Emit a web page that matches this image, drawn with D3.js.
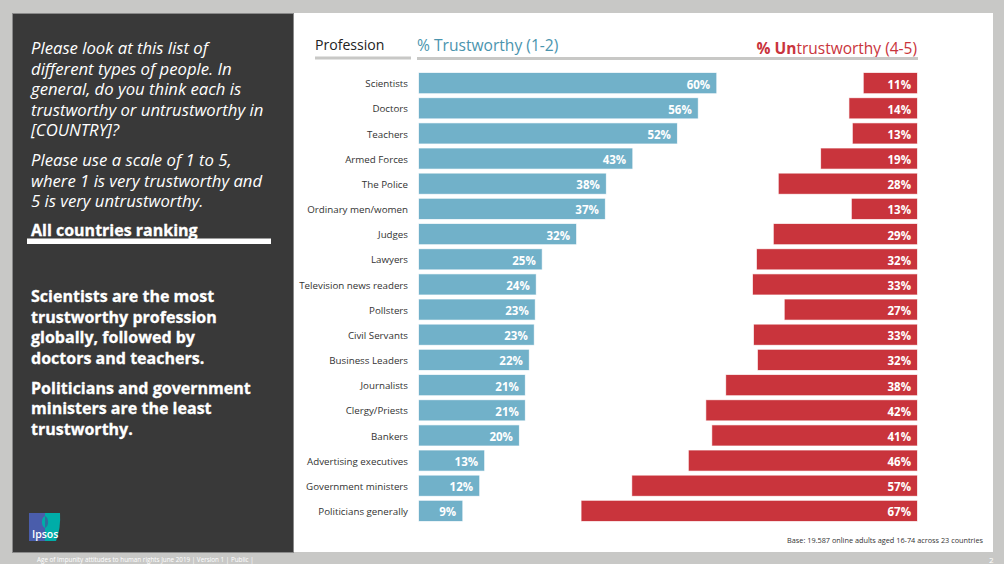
<!DOCTYPE html>
<html>
<head>
<meta charset="utf-8">
<script src="https://cdn.jsdelivr.net/npm/d3@7"></script>
<style>
    html, body { margin: 0; padding: 0; background: #c8c8c6; overflow: hidden; }
    svg { display: block; }
    text { font-family: "Open Sans", sans-serif; }
</style>
</head>
<body>
<svg id="chart" width="1004" height="564"></svg>
<script>
// values, bars are not exactly the rounded labels
const professions = ['Scientists', 'Doctors', 'Teachers', 'Armed Forces', 'The Police', 'Ordinary men/women',
    'Judges', 'Lawyers', 'Television news readers', 'Pollsters', 'Civil Servants', 'Business Leaders',
    'Journalists', 'Clergy/Priests', 'Bankers', 'Advertising executives', 'Government ministers', 'Politicians generally'];
const trustworthy = [59.8, 56.1, 51.9, 42.9, 37.6, 37.4, 31.6, 24.7, 23.5, 23.3, 23.1, 22.1, 21.3, 21.3, 20.1, 13.1, 12.1, 8.7];
const untrustworthy = [10.7, 13.6, 12.9, 19.3, 27.8, 13.1, 28.8, 32.2, 33.0, 26.6, 32.8, 32.0, 38.4, 42.4, 41.2, 45.9, 57.3, 67.49];

const questionLines = [
    ['Please look at this list of', 54], ['different types of people. In', 75], ['general, do you think each is', 95],
    ['trustworthy or untrustworthy in', 116], ['[COUNTRY]?', 136],
    ['Please use a scale of 1 to 5,', 166], ['where 1 is very trustworthy and', 187], ['5 is very untrustworthy.', 207]
];
const findingLines = [
    ['Scientists are the most', 302], ['trustworthy profession', 323], ['globally, followed by', 343], ['doctors and teachers.', 364],
    ['Politicians and government', 394], ['ministers are the least', 414], ['trustworthy.', 435]
];

const svg = d3.select('#chart');

// slide background
svg.append('rect').attr('x', 293).attr('y', 13).attr('width', 700).attr('height', 539).attr('fill', '#ffffff');
svg.append('rect').attr('x', 12.5).attr('y', 13.5).attr('width', 281).attr('height', 539)
    .attr('fill', '#393939').attr('stroke', '#8a8a8a');

// left panel text
const panel = svg.append('g').attr('fill', '#ffffff');
panel.selectAll('text.question')
    .data(questionLines)
    .enter()
    .append('text')
        .attr('class', 'question')
        .attr('x', 31)
        .attr('y', d => d[1])
        .attr('font-size', 16.7)
        .attr('font-style', 'italic')
        .text(d => d[0]);
panel.append('text')
    .attr('x', 31).attr('y', 236)
    .attr('font-size', 16)
    .attr('font-weight', 700)
    .attr('stroke', '#ffffff')
    .attr('stroke-width', 0.3)
    .text('All countries ranking');
panel.append('rect').attr('x', 27).attr('y', 238.5).attr('width', 244).attr('height', 5.5);
panel.selectAll('text.finding')
    .data(findingLines)
    .enter()
    .append('text')
        .attr('class', 'finding')
        .attr('x', 31)
        .attr('y', d => d[1])
        .attr('font-size', 16.05)
        .attr('font-weight', 700)
        .attr('stroke', '#ffffff')
        .attr('stroke-width', 0.3)
        .text(d => d[0]);

// logo
const logo = svg.append('g');
logo.append('path').attr('d', 'M29 513H60Q61 528 56 541H29Z').attr('fill', '#00ada8');
logo.append('rect').attr('x', 29).attr('y', 513).attr('width', 16).attr('height', 28).attr('fill', '#4a5dab');
logo.append('path').attr('d', 'M45 516A5 6.5 0 0 0 45 528Z').attr('fill', '#00ada8');
logo.append('path').attr('d', 'M45 516A5 6.5 0 0 1 45 528Z').attr('fill', '#2f6f9f');
logo.append('text').attr('x', 32).attr('y', 537.5).attr('font-size', 10.5).attr('font-weight', 600).attr('fill', '#ffffff').text('Ipsos');

// column headers
svg.append('text').attr('x', 315).attr('y', 50).attr('font-size', 14.1).attr('fill', '#222222').text('Profession');
svg.append('text').attr('x', 417).attr('y', 50.6).attr('font-size', 15.6).attr('fill', '#4a94ae').text('% Trustworthy (1-2)');
const untrustHead = svg.append('text').attr('x', 917).attr('y', 53.8).attr('text-anchor', 'end')
    .attr('font-size', 15.5).attr('fill', '#c9343c');
untrustHead.append('tspan').attr('font-weight', 700).text('% Un');
untrustHead.append('tspan').text('trustworthy (4-5)');
svg.append('rect').attr('x', 315).attr('y', 56.5).attr('width', 96).attr('height', 3).attr('fill', '#c8c8c6');
svg.append('rect').attr('x', 417).attr('y', 57).attr('width', 501).attr('height', 3).attr('fill', '#c8c8c6');

// scales
const yScale = d3.scaleBand()
    .domain(professions)
    .range([73, 521])
    .paddingInner(0.2);
const xTrust = d3.scaleLinear().domain([0, 100]).range([419, 916]);
const xUntrust = d3.scaleLinear().domain([0, 100]).range([917, 420]);
const pct = d3.format('.0f');

// profession labels
const yAxis = svg.append('g')
    .attr('transform', 'translate(408, 1)')
    .call(d3.axisLeft(yScale).tickSize(0).tickPadding(0));
yAxis.select('.domain').remove();
yAxis.selectAll('text').attr('font-size', 9.75).attr('fill', '#333333').attr('font-family', '"Open Sans", sans-serif');

const rows = svg.selectAll('g.row')
    .data(professions)
    .enter()
    .append('g')
        .attr('class', 'row');

rows.append('rect')
    .attr('x', xTrust(0))
    .attr('y', d => yScale(d))
    .attr('width', (d, i) => xTrust(trustworthy[i]) - xTrust(0))
    .attr('height', yScale.bandwidth())
    .attr('fill', '#71b1c9')
    .attr('stroke', '#71b1c9')
    .attr('stroke-opacity', 0.3);
rows.append('rect')
    .attr('x', (d, i) => xUntrust(untrustworthy[i]))
    .attr('y', d => yScale(d))
    .attr('width', (d, i) => xUntrust(0) - xUntrust(untrustworthy[i]))
    .attr('height', yScale.bandwidth())
    .attr('fill', '#c9343c')
    .attr('stroke', '#c9343c')
    .attr('stroke-opacity', 0.3);

rows.append('text')
    .attr('x', (d, i) => xTrust(trustworthy[i]) - 6)
    .attr('y', d => yScale(d) + yScale.bandwidth() / 2 + 5.5)
    .attr('text-anchor', 'end')
    .attr('font-size', 11.5)
    .attr('font-weight', 700)
    .attr('fill', '#ffffff')
    .text((d, i) => pct(trustworthy[i]) + '%');
rows.append('text')
    .attr('x', xUntrust(0) - 6)
    .attr('y', d => yScale(d) + yScale.bandwidth() / 2 + 5.5)
    .attr('text-anchor', 'end')
    .attr('font-size', 11.5)
    .attr('font-weight', 700)
    .attr('fill', '#ffffff')
    .text((d, i) => pct(untrustworthy[i]) + '%');

// footer
svg.append('text').attr('x', 983).attr('y', 543).attr('text-anchor', 'end').attr('font-size', 7.3).attr('fill', '#333333')
    .text('Base: 19.587 online adults aged 16-74 across 23 countries');
svg.append('text').attr('x', 37).attr('y', 562).attr('font-size', 6.3).attr('fill', '#ffffff')
    .text('Age of Impunity attitudes to human rights June 2019 | Version 1 | Public |');
svg.append('text').attr('x', 989).attr('y', 562.5).attr('font-size', 8).attr('fill', '#ffffff').text('2');
</script>
</body>
</html>
